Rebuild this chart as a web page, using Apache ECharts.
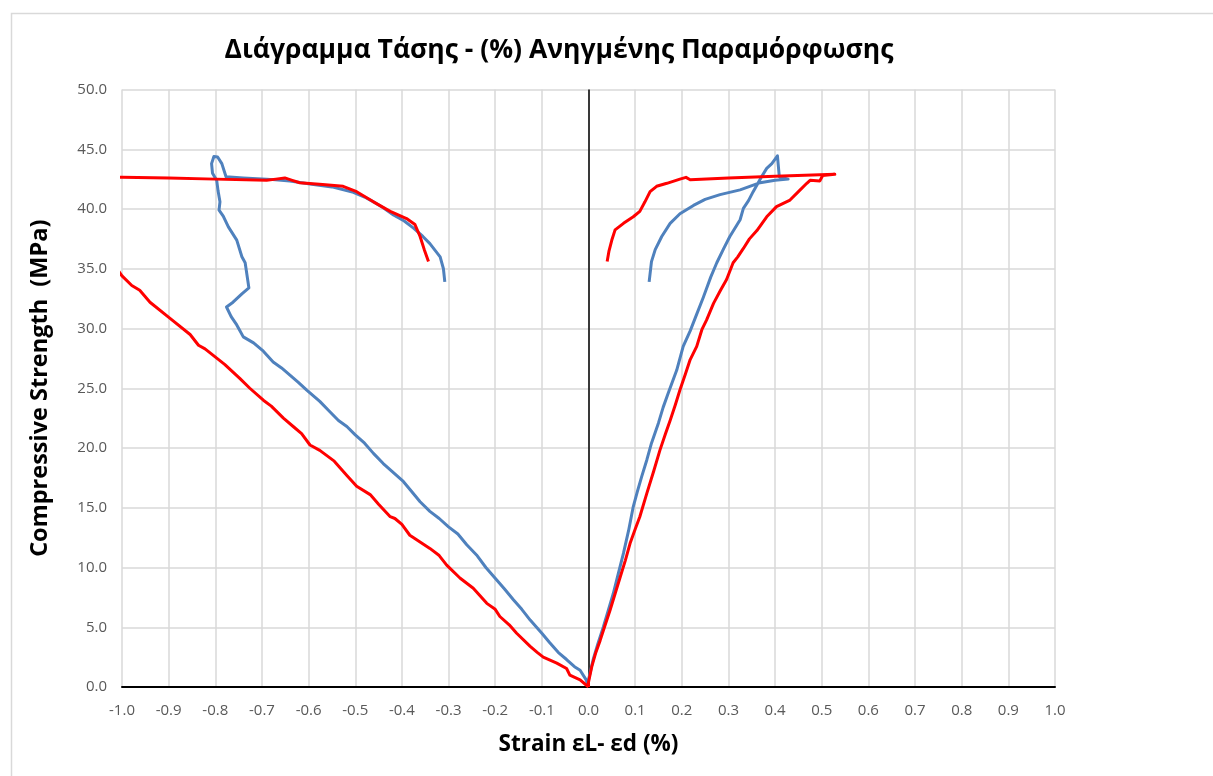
<!DOCTYPE html>
<html>
<head>
<meta charset="utf-8">
<script src="https://cdn.jsdelivr.net/npm/echarts@6/dist/echarts.min.js"></script>
<style>
  html, body { margin: 0; padding: 0; background: #ffffff; }
  #chart { width: 1213px; height: 776px; }
</style>
</head>
<body>
<div id="chart"></div>
<script>
// Axis settings
const xMin = -1.0, xMax = 1.0, xStep = 0.1;
const yMin = 0, yMax = 50, yStep = 5;

// Specimen 1 (blue): lateral strain (negative) and axial strain (positive), [strain %, stress MPa]
const blueLateral = [
  [0, 0], [-0.005, 0.6], [-0.018, 1.4], [-0.03, 1.7], [-0.047, 2.3], [-0.065, 2.9], [-0.083, 3.7],
  [-0.1, 4.5], [-0.125, 5.6], [-0.143, 6.5], [-0.161, 7.3], [-0.18, 8.2], [-0.2, 9.1], [-0.22, 10.0],
  [-0.24, 11.05], [-0.261, 11.9], [-0.28, 12.8], [-0.3, 13.4], [-0.32, 14.1], [-0.34, 14.7],
  [-0.361, 15.5], [-0.38, 16.4], [-0.397, 17.2], [-0.42, 18.0], [-0.44, 18.7], [-0.461, 19.55],
  [-0.48, 20.4], [-0.5, 21.1], [-0.518, 21.8], [-0.536, 22.3], [-0.556, 23.1], [-0.576, 23.9],
  [-0.604, 24.85], [-0.622, 25.5], [-0.64, 26.1], [-0.658, 26.7], [-0.676, 27.2], [-0.697, 28.1],
  [-0.718, 28.8], [-0.74, 29.3], [-0.754, 30.3], [-0.766, 31.0], [-0.776, 31.8], [-0.762, 32.2],
  [-0.743, 32.9], [-0.728, 33.4], [-0.736, 35.5], [-0.743, 36.0], [-0.754, 37.4], [-0.772, 38.5],
  [-0.783, 39.4], [-0.792, 39.9], [-0.79, 40.6], [-0.794, 41.5], [-0.797, 42.4], [-0.806, 43.0],
  [-0.808, 43.8], [-0.803, 44.4], [-0.795, 44.35], [-0.786, 43.8], [-0.777, 42.7], [-0.74, 42.6],
  [-0.69, 42.5], [-0.64, 42.35], [-0.597, 42.1], [-0.55, 41.85], [-0.504, 41.4], [-0.48, 41.0],
  [-0.461, 40.6], [-0.44, 40.1], [-0.418, 39.5], [-0.395, 39.0], [-0.375, 38.4], [-0.355, 37.7],
  [-0.34, 37.1], [-0.318, 36.0], [-0.311, 35.0], [-0.308, 33.9]
];
const blueAxial = [
  [0, 0], [0.0, 0.6], [0.01, 2.3], [0.02, 3.6], [0.032, 5.05], [0.043, 6.5], [0.053, 7.8],
  [0.064, 9.5], [0.075, 11.2], [0.086, 13.1], [0.096, 15.1], [0.105, 16.4], [0.114, 17.6],
  [0.125, 19.0], [0.135, 20.4], [0.15, 22.1], [0.16, 23.4], [0.171, 24.6], [0.189, 26.5],
  [0.203, 28.5], [0.218, 29.8], [0.232, 31.2], [0.246, 32.6], [0.262, 34.3], [0.275, 35.5],
  [0.29, 36.7], [0.303, 37.7], [0.325, 39.1], [0.332, 40.05], [0.343, 40.7], [0.353, 41.45],
  [0.371, 42.7], [0.382, 43.4], [0.393, 43.8], [0.405, 44.45], [0.409, 42.7], [0.428, 42.5],
  [0.4, 42.4], [0.368, 42.2], [0.325, 41.6], [0.282, 41.2], [0.25, 40.8], [0.225, 40.3],
  [0.196, 39.6], [0.175, 38.8], [0.157, 37.7], [0.143, 36.6], [0.135, 35.6], [0.13, 33.9]
];

// Specimen 2 (red): lateral strain (negative, runs past -1.0 and is clipped) and axial strain (positive)
const redLateral = [
  [0, 0], [-0.004, 0.1], [-0.018, 0.6], [-0.04, 1.0], [-0.047, 1.55], [-0.068, 2.0], [-0.097, 2.5],
  [-0.11, 2.9], [-0.125, 3.4], [-0.154, 4.5], [-0.17, 5.2], [-0.19, 5.9], [-0.2, 6.5], [-0.218, 7.0],
  [-0.247, 8.26], [-0.275, 9.1], [-0.304, 10.2], [-0.32, 11.0], [-0.34, 11.6], [-0.383, 12.7],
  [-0.4, 13.6], [-0.415, 14.1], [-0.425, 14.25], [-0.45, 15.3], [-0.468, 16.1], [-0.497, 16.8],
  [-0.518, 17.7], [-0.545, 18.9], [-0.576, 19.8], [-0.597, 20.25], [-0.615, 21.2], [-0.633, 21.8],
  [-0.654, 22.5], [-0.68, 23.5], [-0.697, 24.0], [-0.726, 25.0], [-0.747, 25.8], [-0.78, 27.0],
  [-0.822, 28.3], [-0.836, 28.6], [-0.854, 29.5], [-0.897, 30.85], [-0.94, 32.2], [-0.962, 33.2],
  [-0.979, 33.6], [-1.0, 34.4], [-1.04, 36.6], [-1.08, 39.4], [-1.11, 41.8], [-1.1, 42.7],
  [-1.0, 42.65], [-0.9, 42.6], [-0.8, 42.5], [-0.69, 42.4], [-0.67, 42.5], [-0.651, 42.6],
  [-0.635, 42.4], [-0.619, 42.2], [-0.57, 42.05], [-0.526, 41.9], [-0.497, 41.45], [-0.461, 40.6],
  [-0.425, 39.8], [-0.39, 39.2], [-0.372, 38.7], [-0.361, 37.7], [-0.352, 36.6], [-0.343, 35.6]
];
const redAxial = [
  [0, 0], [0.0, 0.4], [0.007, 1.7], [0.015, 2.8], [0.025, 3.9], [0.035, 5.1], [0.046, 6.4],
  [0.057, 7.8], [0.068, 9.2], [0.079, 10.6], [0.089, 12.0], [0.1, 13.2], [0.11, 14.25],
  [0.125, 16.2], [0.14, 18.1], [0.153, 19.8], [0.165, 21.2], [0.175, 22.3], [0.186, 23.6],
  [0.196, 24.85], [0.207, 26.1], [0.218, 27.4], [0.232, 28.5], [0.243, 29.9], [0.253, 30.7],
  [0.268, 32.1], [0.283, 33.2], [0.296, 34.1], [0.31, 35.5], [0.32, 36.0], [0.332, 36.7],
  [0.345, 37.5], [0.361, 38.2], [0.382, 39.35], [0.403, 40.2], [0.432, 40.75], [0.45, 41.45],
  [0.468, 42.15], [0.475, 42.4], [0.496, 42.35], [0.502, 42.8], [0.528, 42.9], [0.4, 42.75],
  [0.3, 42.6], [0.218, 42.45], [0.209, 42.65], [0.196, 42.5], [0.168, 42.15], [0.146, 41.9],
  [0.132, 41.45], [0.121, 40.6], [0.11, 39.8], [0.096, 39.35], [0.075, 38.8], [0.057, 38.25],
  [0.05, 37.4], [0.044, 36.5], [0.04, 35.6]
];

const titleText = 'Διάγραμμα Τάσης - (%) Ανηγμένης Παραμόρφωσης';
const xTitle = 'Strain εL- εd (%)';
const yTitle = 'Compressive Strength  (MPa)';

const BLUE = '#4f81bd';
const RED = '#ff0000';
const GRID = '#d9d9d9';
const LABEL = '#595959';
const HEAD_FONT = '"Open Sans", "Noto Sans", sans-serif';
const TICK_FONT = '"Open Sans", "Noto Sans", sans-serif';

function curve(data, color) {
  return {
    type: 'line',
    data: data,
    showSymbol: false,
    symbol: 'none',
    clip: true,
    lineStyle: { color: color, width: 3, join: 'round' },
    itemStyle: { color: color },
    z: 3
  };
}

const chart = echarts.init(document.getElementById('chart'), null, { renderer: 'canvas' });

const series = [
  curve(blueLateral, BLUE),
  curve(blueAxial, BLUE),
  curve(redLateral, RED),
  curve(redAxial, RED)
];
// vertical axis line crossing at zero strain
series[0].markLine = {
  silent: true,
  symbol: ['none', 'none'],
  label: { show: false },
  lineStyle: { color: '#000000', width: 1.5, type: 'solid' },
  data: [{ xAxis: 0 }],
  z: 2
};

chart.setOption({
  animation: false,
  backgroundColor: '#ffffff',
  graphic: [{
    type: 'rect',
    shape: { x: 11.5, y: 13.5, width: 1400, height: 1000 },
    style: { fill: 'none', stroke: GRID, lineWidth: 1.5 },
    silent: true,
    z: -10
  }],
  title: {
    text: titleText,
    left: 554,
    top: 32,
    textAlign: 'center',
    textStyle: { fontFamily: HEAD_FONT, fontWeight: 'bold', fontSize: 26.5, color: '#000000' }
  },
  grid: { left: 122, right: 158, top: 89.5, bottom: 89, containLabel: false },
  xAxis: {
    type: 'value',
    min: xMin, max: xMax, interval: xStep,
    name: xTitle,
    nameLocation: 'middle',
    nameGap: 46,
    nameTextStyle: { fontFamily: HEAD_FONT, fontWeight: 'bold', fontSize: 22.5, color: '#000000' },
    axisLine: { show: true, onZero: false, lineStyle: { color: '#000000', width: 2 } },
    axisTick: { show: false },
    axisLabel: {
      margin: 16, color: LABEL, fontFamily: TICK_FONT, fontSize: 15,
      formatter: v => (Math.abs(v) < 1e-9 ? 0 : v).toFixed(1)
    },
    splitLine: { show: true, lineStyle: { color: GRID, width: 1.5 } }
  },
  yAxis: {
    type: 'value',
    min: yMin, max: yMax, interval: yStep,
    name: yTitle,
    nameLocation: 'middle',
    nameGap: 70,
    nameRotate: 90,
    nameTextStyle: { fontFamily: HEAD_FONT, fontWeight: 'bold', fontSize: 23.5, color: '#000000' },
    axisLine: { show: false },
    axisTick: { show: false },
    axisLabel: {
      margin: 15, color: LABEL, fontFamily: TICK_FONT, fontSize: 15,
      formatter: v => v.toFixed(1)
    },
    splitLine: { show: true, lineStyle: { color: GRID, width: 1.5 } }
  },
  series: series
});
</script>
</body>
</html>
